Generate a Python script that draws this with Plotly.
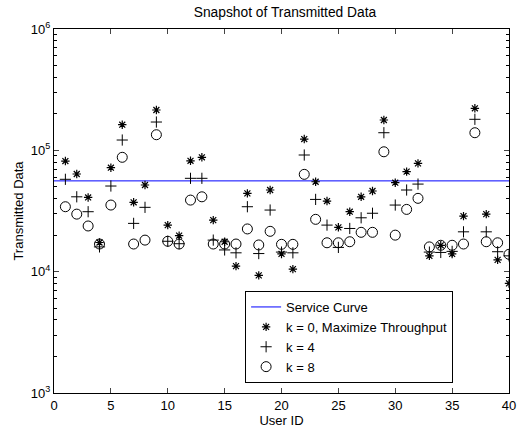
import plotly.graph_objects as go

user_ids = list(range(1, 41))
service_x = [0, 40]
service_y = [56000, 56000]
k0 = [81600, 63800, 40900, 17400, 71900, 162600, 37300, 51800, 214900, 24200,
      19800, 82000, 87600, 26600, 17650, 11100, 44200, 9320, 47100, 14000,
      10500, 123900, 55100, 38200, 23200, 31200, 41400, 46200, 177800, 54100,
      66700, 78100, 13500, 16500, 14000, 28700, 222000, 29800, 12500, 8000]
k4 = [57700, 41400, 31200, 16000, 50800, 121600, 25000, 33900, 171100, 17800,
      17000, 58800, 58800, 18200, 15100, 14300, 34300, 14100, 32200, 14500,
      14300, 91500, 39400, 24200, 15850, 22700, 27800, 30300, 139700, 35400,
      47100, 52700, 14500, 14400, 14700, 21300, 180200, 21300, 14600, 13500]
k8 = [34300, 29800, 23800, 16900, 35400, 87600, 16900, 18200, 134500, 17800,
      16900, 38900, 41400, 16900, 16900, 16900, 22500, 16600, 21500, 16800,
      16800, 63400, 27000, 17300, 17300, 17650, 21100, 21100, 97300, 20000,
      32600, 40200, 16000, 16500, 16500, 16900, 139700, 17650, 17300, 13900]

x_ticks = [0, 5, 10, 15, 20, 25, 30, 35, 40]
y_ticks = [1e3, 1e4, 1e5, 1e6]
y_ticktext = ["10<sup>3</sup>", "10<sup>4</sup>", "10<sup>5</sup>", "10<sup>6</sup>"]
y_minor = [m * 10 ** e for e in (3, 4, 5) for m in range(2, 10)]

fig = go.Figure()
fig.add_trace(go.Scatter(x=service_x, y=service_y, mode="lines", name="Service Curve",
                         line=dict(color="#0000ff", width=1)))
fig.add_trace(go.Scatter(x=user_ids, y=k0, mode="markers", name="k = 0, Maximize Throughput",
                         marker=dict(symbol="asterisk-open", size=7, color="black",
                                     line=dict(color="black", width=1.2))))
fig.add_trace(go.Scatter(x=user_ids, y=k4, mode="markers", name="k = 4",
                         marker=dict(symbol="cross-thin-open", size=8, color="black",
                                     line=dict(color="black", width=1))))
fig.add_trace(go.Scatter(x=user_ids, y=k8, mode="markers", name="k = 8",
                         marker=dict(symbol="circle-open", size=10, color="black",
                                     line=dict(color="black", width=1))))

font = "Liberation Sans, Arial, sans-serif"
fig.update_layout(
    width=524, height=435,
    margin=dict(l=54, r=8, t=29, b=42),
    paper_bgcolor="white", plot_bgcolor="white",
    font=dict(family=font, size=13, color="black"),
    title=dict(text="Snapshot of Transmitted Data", x=285 / 524, xanchor="center",
               y=1 - 12 / 435, yanchor="middle", font=dict(size=13.8)),
    showlegend=True,
    legend=dict(x=0.42, y=(393 - 291) / 364, xanchor="left", yanchor="top",
                bordercolor="black", borderwidth=1, bgcolor="white",
                font=dict(size=13), tracegroupgap=0, itemwidth=30),
)
fig.update_xaxes(range=[0, 40], tickvals=x_ticks, ticks="inside", ticklen=5,
                 tickfont=dict(size=13),
                 showline=True, linecolor="black", linewidth=1, mirror="ticks",
                 showgrid=False, zeroline=False,
                 title=dict(text="User ID", standoff=3, font=dict(size=13)))
fig.update_yaxes(type="log", range=[3, 6], tickvals=y_ticks, ticktext=y_ticktext,
                 ticks="inside", ticklen=5, tickfont=dict(size=13),
                 minor=dict(tickvals=y_minor, ticks="inside", ticklen=3, tickcolor="black"),
                 showline=True, linecolor="black", linewidth=1, mirror="ticks",
                 showgrid=False, zeroline=False,
                 title=dict(text="Transmitted Data", standoff=4, font=dict(size=13)))

fig.write_html("out.html")
